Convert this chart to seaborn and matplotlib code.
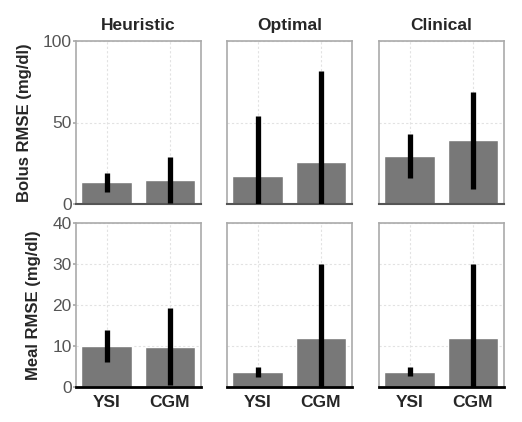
import matplotlib
matplotlib.use("Agg")
import matplotlib.pyplot as plt
import seaborn as sns
import pandas as pd
import numpy as np

sns.set_theme(style="white")
plt.rcParams['font.family'] = ['Liberation Sans', 'DejaVu Sans']

methods = ["Heuristic", "Optimal", "Clinical"]
sensors = ["YSI", "CGM"]

bolus_mean = {"Heuristic": [13.3, 14.7], "Optimal": [17.2, 25.6], "Clinical": [29.4, 39.0]}
bolus_err = {"Heuristic": [5.7, 14.3], "Optimal": [37.0, 56.2], "Clinical": [13.5, 29.9]}
meal_mean = {"Heuristic": [10.0, 9.8], "Optimal": [3.7, 11.9], "Clinical": [3.7, 11.9]}
meal_err = {"Heuristic": [3.9, 9.4], "Optimal": [1.2, 18.1], "Clinical": [1.1, 18.1]}

row_means = [bolus_mean, meal_mean]
row_errs = [bolus_err, meal_err]
row_ylim = [100, 40]
row_ticks = [[0, 50, 100], [0, 10, 20, 30, 40]]
row_labels = ["Bolus RMSE (mg/dl)", "Meal RMSE (mg/dl)"]

fig = plt.figure(figsize=(5.22, 4.22), dpi=100)
lefts = [76 / 522, 227 / 522, 379 / 522]
w = 125 / 522
bottoms = [1 - 204 / 422, 1 - 387 / 422]
hs = [163 / 422, 164 / 422]

for r in range(2):
    for c, m in enumerate(methods):
        ax = fig.add_axes([lefts[c], bottoms[r], w, hs[r]])
        df = pd.DataFrame({"sensor": sensors, "value": row_means[r][m]})
        sns.barplot(data=df, x="sensor", y="value", color="#787878", saturation=1,
                    width=0.8, ax=ax, errorbar=None, zorder=2)
        ax.errorbar(x=np.arange(len(sensors)), y=row_means[r][m], yerr=row_errs[r][m],
                    fmt="none", ecolor="black", elinewidth=3.8, capsize=0, zorder=3)
        ax.set_xlim(-0.485, 1.49)
        ax.set_ylim(0, row_ylim[r])
        ax.set_yticks(row_ticks[r])
        ax.grid(True, color="#e2e2e2", linestyle=(0, (2, 2)), linewidth=0.8, zorder=0)
        ax.set_axisbelow(True)
        for s in ["top", "right", "left"]:
            ax.spines[s].set_color("#aaaaaa")
            ax.spines[s].set_linewidth(1.2)
        ax.spines["bottom"].set_color("#555555" if r == 0 else "black")
        ax.spines["bottom"].set_linewidth(1.5 if r == 0 else 2)
        ax.set_xlabel("")
        ax.set_ylabel("")
        if c == 0:
            ax.tick_params(axis="y", labelsize=12.5, labelcolor="#555555", length=2,
                           color="#aaaaaa", pad=1, left=True)
            ax.set_ylabel(row_labels[r], fontsize=12, fontweight="bold", labelpad=8)
        else:
            ax.tick_params(axis="y", left=False, labelleft=False)
        if r == 1:
            ax.tick_params(axis="x", labelsize=12.5, length=0, pad=6)
            for t in ax.get_xticklabels():
                t.set_fontweight("bold")
        else:
            ax.tick_params(axis="x", labelbottom=False, length=0)
            ax.set_title(m, fontsize=12.5, fontweight="bold", pad=8)

fig.savefig("out.png", dpi=100)
